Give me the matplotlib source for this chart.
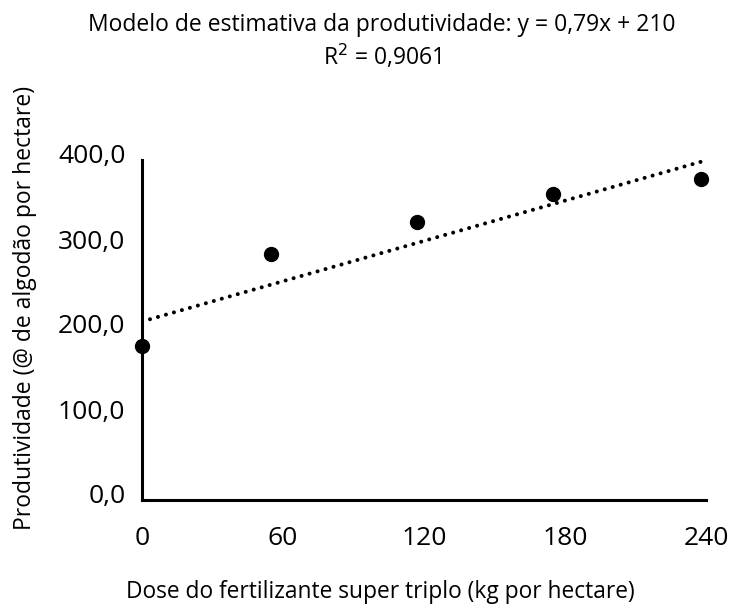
import numpy as np
import matplotlib.pyplot as plt
from matplotlib.transforms import ScaledTranslation

plt.rcParams['font.family'] = ['Open Sans', 'DejaVu Sans']

# dados
dose = [0, 55, 117, 175, 238]
produtividade = [181.5, 289, 326.7, 360, 378]
coef_a = 0.79
coef_b = 210
r2 = 0.9061
xticks = [0, 60, 120, 180, 240]
yticks = [0, 100, 200, 300, 400]

fig = plt.figure(figsize=(7.31, 6.07), dpi=100)
ax = fig.add_axes([142 / 731, 1 - 500 / 607, 564 / 731, 340 / 607])

# linha de tendência
xt = np.array([0, 240])
ax.plot(xt, coef_a * xt + coef_b, color='black', lw=2.9,
        linestyle=(0, (0.01, 2.05)), dash_capstyle='round', zorder=2)
ax.plot(dose, produtividade, 'o', color='black', markersize=10, zorder=3,
        clip_on=False)

ax.set_xlim(0, 240)
ax.set_ylim(0, 400)
ax.set_xticks(xticks)
ax.set_yticks(yticks)
ax.set_xticklabels([str(v) for v in xticks])
ax.set_yticklabels([f"{v:.1f}".replace('.', ',') for v in yticks])
ax.tick_params(length=0, labelsize=19)
ax.tick_params(axis='x', pad=19)
ax.tick_params(axis='y', pad=12)
# rótulos do eixo y um pouco acima das marcas, como no original
for lb in ax.get_yticklabels():
    lb.set_transform(lb.get_transform() + ScaledTranslation(0, 0.06, fig.dpi_scale_trans))

for s in ['top', 'right']:
    ax.spines[s].set_visible(False)
for s in ['left', 'bottom']:
    ax.spines[s].set_linewidth(2.2)

ax.set_xlabel("Dose do fertilizante super triplo (kg por hectare)", fontsize=16.4,
              ha='center', va='center')
ax.xaxis.set_label_coords(0.422, -0.2706)
ax.set_ylabel("Produtividade (@ de algodão por hectare)", fontsize=16.5,
              ha='center', va='center')
ax.yaxis.set_label_coords(-0.2074, 0.565)

fig.text(382 / 731, 1 - 25 / 607,
         "Modelo de estimativa da produtividade: y = " + f"{coef_a}".replace('.', ',') + f"x + {coef_b}",
         ha='center', va='center', fontsize=16.5)
fig.text(382 / 731, 1 - 57 / 607, r"R$^2$ = " + f"{r2}".replace('.', ','),
         ha='center', va='center', fontsize=16.5)

fig.savefig("out.png", dpi=100)
